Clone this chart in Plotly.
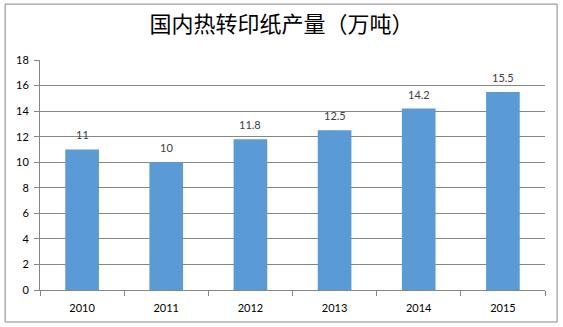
import plotly.graph_objects as go

years = ["2010", "2011", "2012", "2013", "2014", "2015"]
output = [11, 10, 11.8, 12.5, 14.2, 15.5]
labels = ["11", "10", "11.8", "12.5", "14.2", "15.5"]
title = "国内热转印纸产量（万吨）"

fig = go.Figure()
fig.add_trace(go.Bar(
    x=years, y=output,
    marker=dict(color="#5B9BD5", line=dict(width=0)),
    width=0.4,
))

# category index positions for the value labels
for i, (v, t) in enumerate(zip(output, labels)):
    fig.add_annotation(x=i, y=v, text=t, showarrow=False, yanchor="bottom", yshift=6,
                       font=dict(family="Lato, sans-serif", size=11, color="#404040"))

fig.update_layout(
    width=563, height=327,
    margin=dict(l=40, r=18, t=60, b=37),
    paper_bgcolor="white", plot_bgcolor="white",
    showlegend=False,
    title=dict(text=title, x=0.5, xanchor="center", y=0.925, yanchor="middle",
               font=dict(family="Noto Sans CJK SC", size=22, color="#000000")),
    xaxis=dict(type="category", range=[-0.5, 5.5], showline=True, linecolor="#868686", linewidth=1,
               ticks="outside", tickson="boundaries", ticklen=5, tickcolor="#868686",
               ticklabelstandoff=8, tickangle=0,
               tickfont=dict(family="Lato, sans-serif", size=11, color="#000000"),
               showgrid=False),
    yaxis=dict(range=[0, 18], dtick=2, showline=True, linecolor="#868686", linewidth=1,
               ticks="outside", ticklen=5, tickcolor="#868686",
               gridcolor="#868686", gridwidth=1, zeroline=False,
               ticklabelstandoff=3,
               tickfont=dict(family="Lato, sans-serif", size=11, color="#000000")),
)

fig.add_shape(type="rect", xref="paper", yref="paper",
              x0=-0.069, x1=1.024, y0=-0.139, y1=1.243,
              line=dict(color="#868686", width=1), fillcolor="rgba(0,0,0,0)")

fig.write_html("out.html")
